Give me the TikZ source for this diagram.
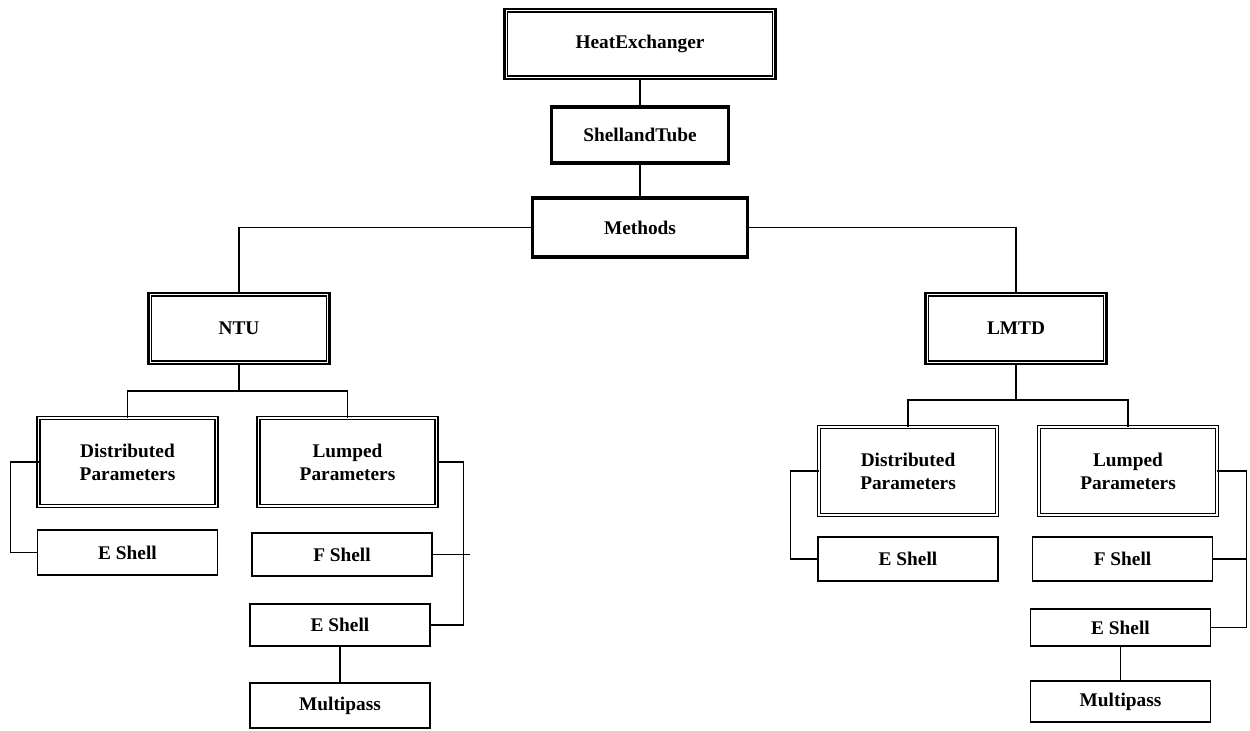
\documentclass[tikz,border=0pt]{standalone}
\usepackage{fontspec}
\setmainfont{Liberation Serif}
\usepackage{tikz}
\usetikzlibrary{positioning,calc}

\begin{document}
\begin{tikzpicture}[
  every node/.style={font=\bfseries\fontsize{11}{13}\selectfont, align=center, outer sep=0pt},
  main/.style={draw, line width=1.3pt, minimum width=36.2mm, minimum height=14.2mm,
    path picture={\draw[line width=0.6pt]
      ([shift={(1.7pt,1.7pt)}]path picture bounding box.south west) rectangle
      ([shift={(-1.7pt,-1.7pt)}]path picture bounding box.north east);}},
  heavy/.style={draw, line width=2pt},
  param/.style={draw, double, double distance=0.9pt, line width=0.95pt, minimum width=35.6mm, minimum height=17.6mm},
  leaf/.style={draw, line width=1.1pt, minimum width=36mm, minimum height=8.8mm},
  conn/.style={line width=1.1pt},
]
  \useasboundingbox (0,0) rectangle (25,-14.62);

  \node[main, minimum width=54.2mm, minimum height=14mm] (hx) at (12.8,-0.88) {HeatExchanger};
  \node[heavy, minimum width=35.4mm, minimum height=11.2mm, below=5.6mm of hx] (st) {ShellandTube};
  \node[heavy, minimum width=43mm, minimum height=11.8mm, below=7mm of st] (meth) {Methods};

  \node[main, below=7.2mm of meth, xshift=-80.2mm] (ntu) {NTU};
  \node[main, below=7.2mm of meth, xshift=75.2mm] (lmtd) {LMTD};

  % NTU branch
  \node[param, below=10.8mm of ntu, xshift=-22.3mm] (ntuDist) {Distributed\\Parameters};
  \node[param, below=10.8mm of ntu, xshift=21.7mm] (ntuLump) {Lumped\\Parameters};
  \node[leaf, minimum height=9mm, below=4.8mm of ntuDist] (ntuE) {E Shell};
  \node[leaf, minimum height=8.6mm, below=5.4mm of ntuLump, xshift=-1.1mm] (ntuF) {F Shell};
  \node[leaf, minimum height=8.4mm, below=5.6mm of ntuF, xshift=-0.4mm] (ntuE2) {E Shell};
  \node[leaf, minimum height=9mm, below=7.4mm of ntuE2] (ntuMP) {Multipass};

  % LMTD branch
  \node[param, below=12.6mm of lmtd, xshift=-21.6mm] (lmDist) {Distributed\\Parameters};
  \node[param, below=12.6mm of lmtd, xshift=22.4mm] (lmLump) {Lumped\\Parameters};
  \node[leaf, below=4.4mm of lmDist] (lmE) {E Shell};
  \node[leaf, below=4.4mm of lmLump, xshift=-1.1mm] (lmF) {F Shell};
  \node[leaf, minimum height=7.4mm, below=5.6mm of lmF, xshift=-0.4mm] (lmE2) {E Shell};
  \node[leaf, minimum height=8.2mm, below=7mm of lmE2] (lmMP) {Multipass};

  \coordinate[below=5.4mm of ntu] (ntubar);
  \coordinate[below=7.2mm of lmtd] (lmbar);
  \coordinate (ntuleft) at ([xshift=-5.6mm]ntuDist.west);
  \coordinate (ntuturn) at ([xshift=5.4mm]ntuLump.east);
  \coordinate (lmleft) at ([xshift=-5.7mm]lmDist.west);
  \coordinate (lmturn) at ([xshift=5.9mm]lmLump.east);

  \draw[conn] (hx) -- (st);
  \draw[conn] (st) -- (meth);
  \draw[conn] (meth.west) -| (ntu.north);
  \draw[conn] (meth.east) -| (lmtd.north);

  \draw[conn] (ntu) -- (ntubar);
  \draw[conn] (ntuDist.north) |- (ntubar) -| (ntuLump.north);
  \draw[conn] (lmtd) -- (lmbar);
  \draw[conn] (lmDist.north) |- (lmbar) -| (lmLump.north);

  \draw[conn] (ntuDist.west) -- (ntuleft) |- (ntuE.west);
  \draw[conn] (ntuLump.east) -- (ntuturn) |- (ntuE2.east);
  \draw[conn] (ntuF.east) -- ([xshift=1.2mm]ntuF.east -| ntuturn);
  \draw[conn] (ntuE2) -- (ntuMP);

  \draw[conn] (lmDist.west) -- (lmleft) |- (lmE.west);
  \draw[conn] (lmLump.east) -- (lmturn) |- (lmE2.east);
  \draw[conn] (lmF.east) -- (lmF.east -| lmturn);
  \draw[conn] (lmE2) -- (lmMP);
\end{tikzpicture}
\end{document}
